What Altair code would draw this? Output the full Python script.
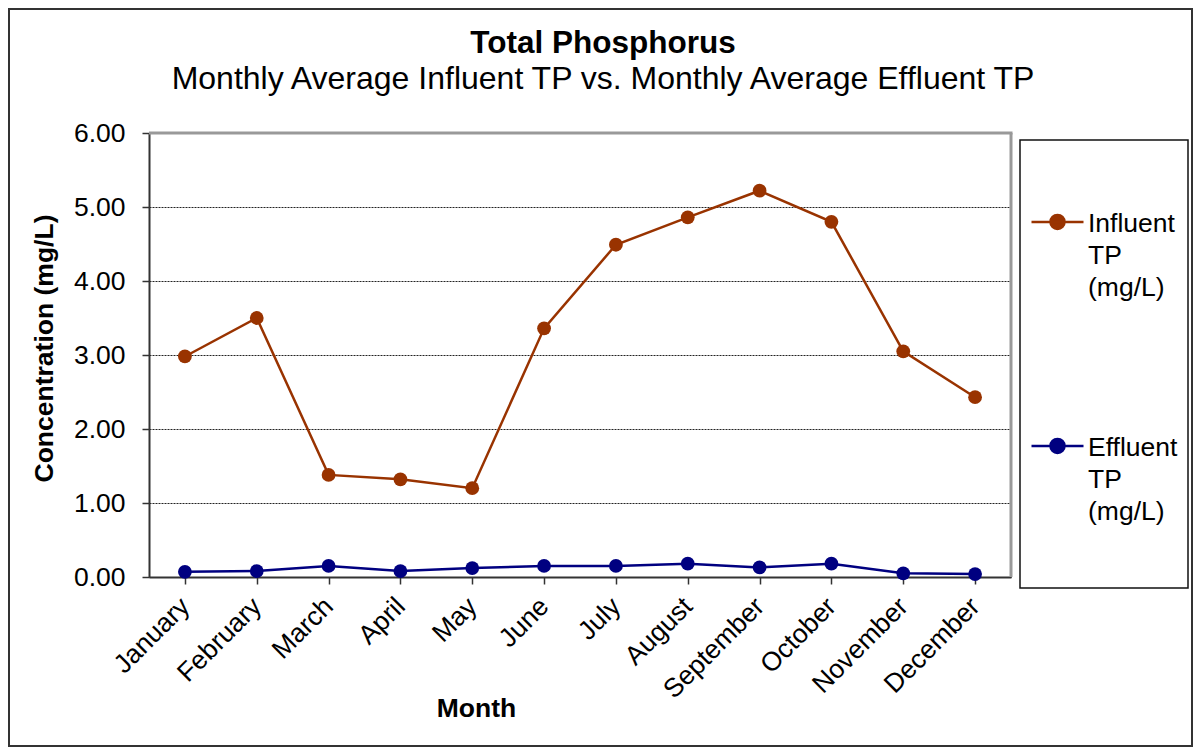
import altair as alt
import pandas as pd

months = ["January", "February", "March", "April", "May", "June", "July",
          "August", "September", "October", "November", "December"]
influent = [2.98, 3.50, 1.38, 1.32, 1.20, 3.36, 4.49, 4.86, 5.22, 4.80, 3.05, 2.43]
effluent = [0.07, 0.08, 0.15, 0.08, 0.12, 0.15, 0.15, 0.18, 0.13, 0.18, 0.05, 0.04]
series_names = ["Influent TP (mg/L)", "Effluent TP (mg/L)"]
series_colors = ["#993300", "#000080"]
y_ticks = [0, 1, 2, 3, 4, 5, 6]

df = pd.DataFrame({
    "Month": months * 2,
    "Value": influent + effluent,
    "Series": [series_names[0]] * 12 + [series_names[1]] * 12,
})

FONT = "Liberation Sans"
W, H = 862, 444
PAD_L, PAD_T = 141, 125
TOTAL_W, TOTAL_H = 1185, 739

# legend symbol: a short line with a dot, shifted down to sit on the first label line
legend_symbol = ("M-1,0.44L1,0.44M-0.27,0.44A0.27,0.27 0 1,0 0.27,0.44"
                 "A0.27,0.27 0 1,0 -0.27,0.44Z")

x = alt.X("Month:N", sort=months,
          scale=alt.Scale(paddingInner=0, paddingOuter=0),
          axis=alt.Axis(title="Month", bandPosition=0,
                        labelAngle=-45, labelAlign="right", labelBaseline="middle",
                        labelPadding=18, labelFontSize=26.5, labelFont=FONT,
                        labelColor="black", tickSize=7, tickColor="#333",
                        tickWidth=1.5, domainColor="#333", domainWidth=2,
                        titleFont=FONT, titleFontSize=26.5, titleFontWeight="bold",
                        titleColor="black", titleX=327, titleY=139,
                        titleBaseline="alphabetic", grid=False))
y = alt.Y("Value:Q",
          scale=alt.Scale(domain=[0, 6], nice=False, zero=True),
          axis=alt.Axis(values=y_ticks, format=".2f", title="Concentration (mg/L)",
                        labelFontSize=26.5, labelFont=FONT, labelColor="black",
                        labelPadding=17, tickSize=7, tickColor="#333", tickWidth=1.5,
                        domainColor="#333", domainWidth=2,
                        titleFont=FONT, titleFontSize=26.5, titleFontWeight="bold",
                        titleColor="black", titleX=-97, titleY=215,
                        titleAngle=270, titleAlign="center", titleBaseline="alphabetic",
                        grid=True, gridColor="#222", gridDash=[2, 1], gridWidth=1))
color = alt.Color("Series:N",
                  scale=alt.Scale(domain=series_names, range=series_colors),
                  legend=alt.Legend(title=None, orient="none", legendX=881, legendY=50,
                                    direction="vertical", symbolType=legend_symbol,
                                    symbolSize=2704, symbolStrokeWidth=2.5,
                                    labelFontSize=26.5, labelFont=FONT, labelColor="black",
                                    labelExpr="split(datum.label, ' ')",
                                    labelBaseline="top", labelOffset=3, labelLimit=0,
                                    rowPadding=106, padding=0))

base = alt.Chart(df).encode(x=x, y=y, color=color)
lines = base.mark_line(strokeWidth=2.5)
points = base.mark_point(filled=True, size=190, opacity=1)

frame_data = alt.Data(values=[{"k": 1}])
outer = alt.Chart(frame_data).mark_rect(fill=None, stroke="#333", strokeWidth=2).encode(
    x=alt.value(-PAD_L + 1), x2=alt.value(TOTAL_W - PAD_L - 1),
    y=alt.value(-PAD_T + 1), y2=alt.value(TOTAL_H - PAD_T - 1))
legend_box = alt.Chart(frame_data).mark_rect(fill=None, stroke="#111", strokeWidth=1.5).encode(
    x=alt.value(871), x2=alt.value(1039), y=alt.value(7), y2=alt.value(455))
frame_top = alt.Chart(frame_data).mark_rule(color="#999", strokeWidth=3).encode(
    x=alt.value(0), x2=alt.value(W + 1.5), y=alt.value(0))
frame_right = alt.Chart(frame_data).mark_rule(color="#999", strokeWidth=3).encode(
    x=alt.value(W), y=alt.value(0), y2=alt.value(H))

chart = alt.layer(outer, legend_box, frame_top, frame_right, lines, points).properties(
    width=W, height=H,
    autosize=alt.AutoSizeParams(type="none"),
    padding={"left": PAD_L, "top": PAD_T,
             "right": TOTAL_W - PAD_L - W, "bottom": TOTAL_H - PAD_T - H},
    title=alt.Title("Total Phosphorus",
                    subtitle="Monthly Average Influent TP vs. Monthly Average Effluent TP",
                    font=FONT, fontSize=31.5, fontWeight="bold", color="black",
                    subtitleFont=FONT, subtitleFontSize=32, subtitleColor="black",
                    subtitlePadding=5, anchor="middle", dx=23, dy=87, offset=0),
).configure_view(stroke=None).configure(
    background="white", style={"guide-label": {"lineHeight": 32}})

chart.save("out.html", embed_options={"renderer": "svg", "actions": False})
